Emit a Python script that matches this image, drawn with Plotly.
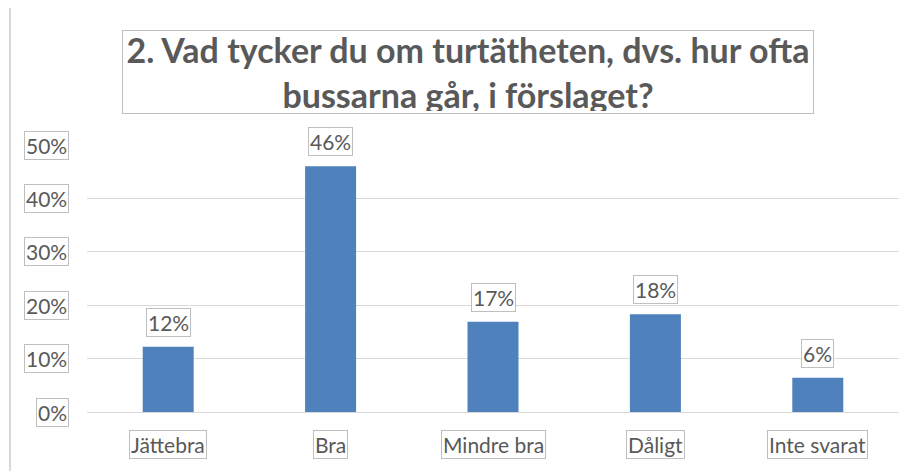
import plotly.graph_objects as go

categories = ["Jättebra", "Bra", "Mindre bra", "Dåligt", "Inte svarat"]
values = [0.122, 0.46, 0.169, 0.183, 0.064]
value_labels = ["12%", "46%", "17%", "18%", "6%"]
y_tick_values = [0, 0.1, 0.2, 0.3, 0.4, 0.5]
y_tick_labels = ["0%", "10%", "20%", "30%", "40%", "50%"]
title_text = "2. Vad tycker du om turtätheten, dvs. hur ofta<br>bussarna går, i förslaget?"

# page body has an 8px margin, so the figure starts at (8, 8)
OFF = 8
W, H = 914 - OFF, 471 - OFF
L, R, T, B = 87 - OFF, 15, 145 - OFF, 59
pw, ph = W - L - R, H - T - B

TEXT = "#595959"
BOX = "#bfbfbf"
FONT = "Lato"

fig = go.Figure(go.Bar(
    x=categories, y=values,
    marker=dict(color="#4f81bd", line=dict(width=0)),
    hoverinfo="skip",
))

ann = []
for v, t in zip(y_tick_values, y_tick_labels):
    ann.append(dict(x=0, xref="paper", y=v, yref="y", text=t, showarrow=False,
                    xanchor="right", yanchor="middle", xshift=-18,
                    font=dict(family=FONT, size=21, color=TEXT),
                    bordercolor=BOX, borderwidth=1, borderpad=1, bgcolor="white"))
for c in categories:
    ann.append(dict(x=c, xref="x", y=0, yref="y", text=c, showarrow=False,
                    xanchor="center", yanchor="top", yshift=-18,
                    font=dict(family=FONT, size=21, color=TEXT),
                    bordercolor=BOX, borderwidth=1, borderpad=1, bgcolor="white"))
for c, v, t in zip(categories, values, value_labels):
    ann.append(dict(x=c, xref="x", y=v, yref="y", text=t, showarrow=False,
                    xanchor="center", yanchor="bottom", yshift=10,
                    font=dict(family=FONT, size=21, color=TEXT),
                    bordercolor=BOX, borderwidth=1, borderpad=1, bgcolor="white"))
# title box: x 122..813, y 30..114 in page pixels
ann.append(dict(x=(467.5 - OFF - L) / pw, xref="paper",
                y=1 + (T - (72 - OFF)) / ph, yref="paper",
                text=title_text, showarrow=False, xanchor="center", yanchor="middle",
                font=dict(family=FONT, size=34, color=TEXT, weight="bold"),
                bordercolor=BOX, borderwidth=1, borderpad=2, width=686, height=78,
                bgcolor="white"))

shapes = [
    dict(type="line", xref="paper", yref="paper",
         x0=(10 - OFF - L) / pw, x1=(W - L) / pw,
         y0=1 + (T - (5 - OFF)) / ph, y1=1 + (T - (5 - OFF)) / ph,
         line=dict(color="#d9d9d9", width=2)),
    dict(type="line", xref="paper", yref="paper",
         x0=(10 - OFF - L) / pw, x1=(10 - OFF - L) / pw,
         y0=1 + (T - (5 - OFF)) / ph, y1=-B / ph,
         line=dict(color="#d9d9d9", width=2)),
]

fig.update_layout(
    width=W, height=H,
    margin=dict(l=L, r=R, t=T, b=B),
    paper_bgcolor="white", plot_bgcolor="white",
    bargap=0.686,
    showlegend=False,
    annotations=ann,
    shapes=shapes,
    xaxis=dict(showticklabels=False, showgrid=False, zeroline=False, showline=False,
               ticks="", fixedrange=True),
    yaxis=dict(range=[0, 0.5], tickvals=y_tick_values, showticklabels=False,
               showgrid=True, gridcolor="#d9d9d9", gridwidth=1.3, zeroline=True,
               zerolinecolor="#d9d9d9", zerolinewidth=1.3, showline=False, ticks="",
               fixedrange=True),
)

fig.write_html("out.html", config={"displayModeBar": False})
